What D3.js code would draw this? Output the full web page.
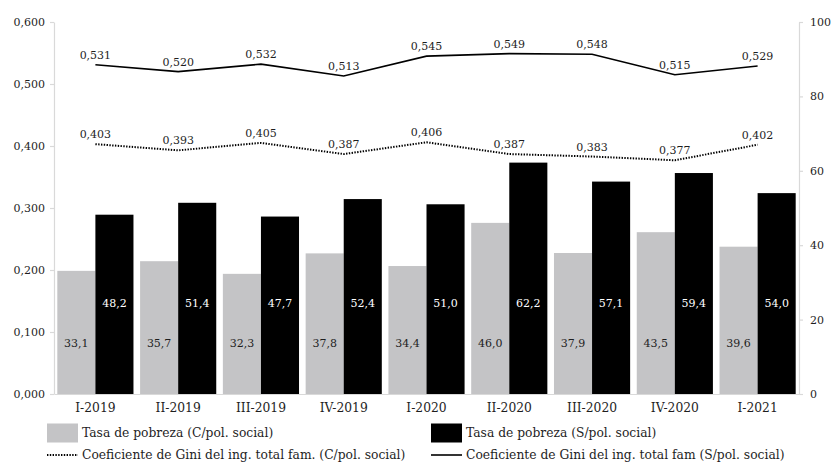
<!DOCTYPE html>
<html>
<head>
<meta charset="utf-8">
<script src="https://cdn.jsdelivr.net/npm/d3@7"></script>
<style>
  html, body { margin: 0; padding: 0; background: #fff; }
  svg { display: block; }
  text { font-family: "DejaVu Serif", "Liberation Serif", serif; }
</style>
</head>
<body>
<svg id="chart" width="833" height="462"></svg>
<script>
const categories = ["I-2019","II-2019","III-2019","IV-2019","I-2020","II-2020","III-2020","IV-2020","I-2021"];
const povertyWith = [33.1, 35.7, 32.3, 37.8, 34.4, 46.0, 37.9, 43.5, 39.6];
const povertyWithout = [48.2, 51.4, 47.7, 52.4, 51.0, 62.2, 57.1, 59.4, 54.0];
const giniWith = [0.403, 0.393, 0.405, 0.387, 0.406, 0.387, 0.383, 0.377, 0.402];
const giniWithout = [0.531, 0.520, 0.532, 0.513, 0.545, 0.549, 0.548, 0.515, 0.529];
const leftTicks = [0, 0.1, 0.2, 0.3, 0.4, 0.5, 0.6];
const rightTicks = [0, 20, 40, 60, 80, 100];
const legendLabels = [
  "Tasa de pobreza (C/pol. social)",
  "Tasa de pobreza (S/pol. social)",
  "Coeficiente de Gini del ing. total fam. (C/pol. social)",
  "Coeficiente de Gini del ing. total fam (S/pol. social)"
];

(function () {
const svg = d3.select("#chart");
const mLeft = 54, mRight = 799, mTop = 22, mBottom = 394;
const grey = "#c4c4c6", axisGrey = "#d9d9d9", textCol = "#1e1e1e";
const fmtComma = (f) => (d) => d3.format(f)(d).replace(".", ",");
const textSize = 12.3, numSize = 11;

const x = d3.scaleBand().domain(categories).range([mLeft, mRight]).paddingInner(0.08).paddingOuter(0.04);
const yL = d3.scaleLinear().domain([0, 0.6]).range([mBottom, mTop]);
const yR = d3.scaleLinear().domain([0, 100]).range([mBottom, mTop]);
const bw = x.bandwidth() / 2;

// bars
const g = svg.append("g");
g.selectAll("rect.with").data(categories).join("rect").attr("class", "with")
  .attr("x", d => x(d)).attr("width", bw)
  .attr("y", (d, i) => yR(povertyWith[i])).attr("height", (d, i) => yR(0) - yR(povertyWith[i]))
  .attr("fill", grey);
g.selectAll("rect.without").data(categories).join("rect").attr("class", "without")
  .attr("x", d => x(d) + bw).attr("width", bw)
  .attr("y", (d, i) => yR(povertyWithout[i])).attr("height", (d, i) => yR(0) - yR(povertyWithout[i]))
  .attr("fill", "#000");

// bar labels
g.selectAll("text.lw").data(categories).join("text").attr("class", "lw")
  .attr("x", d => x(d) + bw / 2).attr("y", yR(13.7)).attr("dy", "0.35em")
  .attr("text-anchor", "middle").attr("font-size", numSize).attr("fill", textCol)
  .text((d, i) => fmtComma(".1f")(povertyWith[i]));
g.selectAll("text.lwo").data(categories).join("text").attr("class", "lwo")
  .attr("x", d => x(d) + bw * 1.5).attr("y", yR(24.5)).attr("dy", "0.35em")
  .attr("text-anchor", "middle").attr("font-size", numSize).attr("fill", "#fff")
  .text((d, i) => fmtComma(".1f")(povertyWithout[i]));

// axes
const axL = svg.append("g").attr("transform", `translate(${mLeft},0)`)
  .call(d3.axisLeft(yL).tickValues(leftTicks).tickFormat(fmtComma(".3f")).tickSize(4).tickSizeOuter(0).tickPadding(5));
const axR = svg.append("g").attr("transform", `translate(${mRight},0)`)
  .call(d3.axisRight(yR).tickValues(rightTicks).tickFormat(d3.format("d")).tickSize(4).tickSizeOuter(0).tickPadding(7));
const axB = svg.append("g").attr("transform", `translate(0,${mBottom})`)
  .call(d3.axisBottom(x).tickSize(0).tickPadding(9));
[axL, axR, axB].forEach(a => {
  a.selectAll("path.domain").attr("stroke", axisGrey).attr("stroke-width", 1.2);
  a.selectAll(".tick line").attr("stroke", axisGrey).attr("stroke-width", 1.2);
  a.selectAll("text").attr("font-size", numSize).attr("fill", textCol).attr("font-family", "DejaVu Serif, serif");
});
axB.selectAll("text").attr("font-size", textSize);

// gini lines
const cx = (d) => x(d) + x.bandwidth() / 2;
const lineL = d3.line().x(d => cx(d[0])).y(d => yL(d[1]));
svg.append("path")
  .datum(categories.map((c, i) => [c, giniWithout[i]]))
  .attr("d", lineL).attr("fill", "none").attr("stroke", "#000").attr("stroke-width", 1.6);
svg.append("path")
  .datum(categories.map((c, i) => [c, giniWith[i]]))
  .attr("d", lineL).attr("fill", "none").attr("stroke", "#000").attr("stroke-width", 2)
  .attr("stroke-dasharray", "1.4,1.4");

svg.selectAll("text.gwo").data(categories).join("text").attr("class", "gwo")
  .attr("x", d => cx(d)).attr("y", (d, i) => yL(giniWithout[i]) - 6)
  .attr("text-anchor", "middle").attr("font-size", numSize).attr("fill", textCol)
  .text((d, i) => fmtComma(".3f")(giniWithout[i]));
svg.selectAll("text.gw").data(categories).join("text").attr("class", "gw")
  .attr("x", d => cx(d)).attr("y", (d, i) => yL(giniWith[i]) - 6)
  .attr("text-anchor", "middle").attr("font-size", numSize).attr("fill", textCol)
  .text((d, i) => fmtComma(".3f")(giniWith[i]));

// legend
const leg = svg.append("g");
const cols = [47, 431], rows = [433, 455];
const items = [
  {type: "rect", fill: grey, col: 0, row: 0},
  {type: "rect", fill: "#000", col: 1, row: 0},
  {type: "dot", col: 0, row: 1},
  {type: "line", col: 1, row: 1}
];
items.forEach((it, i) => {
  const x0 = cols[it.col], yc = rows[it.row];
  if (it.type === "rect") {
    leg.append("rect").attr("x", x0).attr("y", yc - 9.5).attr("width", 31).attr("height", 19).attr("fill", it.fill);
  } else {
    leg.append("line").attr("x1", x0).attr("x2", x0 + 31).attr("y1", yc).attr("y2", yc)
      .attr("stroke", "#000").attr("stroke-width", it.type === "dot" ? 2 : 1.6)
      .attr("stroke-dasharray", it.type === "dot" ? "1.4,1.4" : null);
  }
  leg.append("text").attr("x", x0 + 35).attr("y", yc).attr("dy", "0.35em")
    .attr("font-size", textSize).attr("fill", textCol).text(legendLabels[i]);
});
})();
</script>
</body>
</html>
